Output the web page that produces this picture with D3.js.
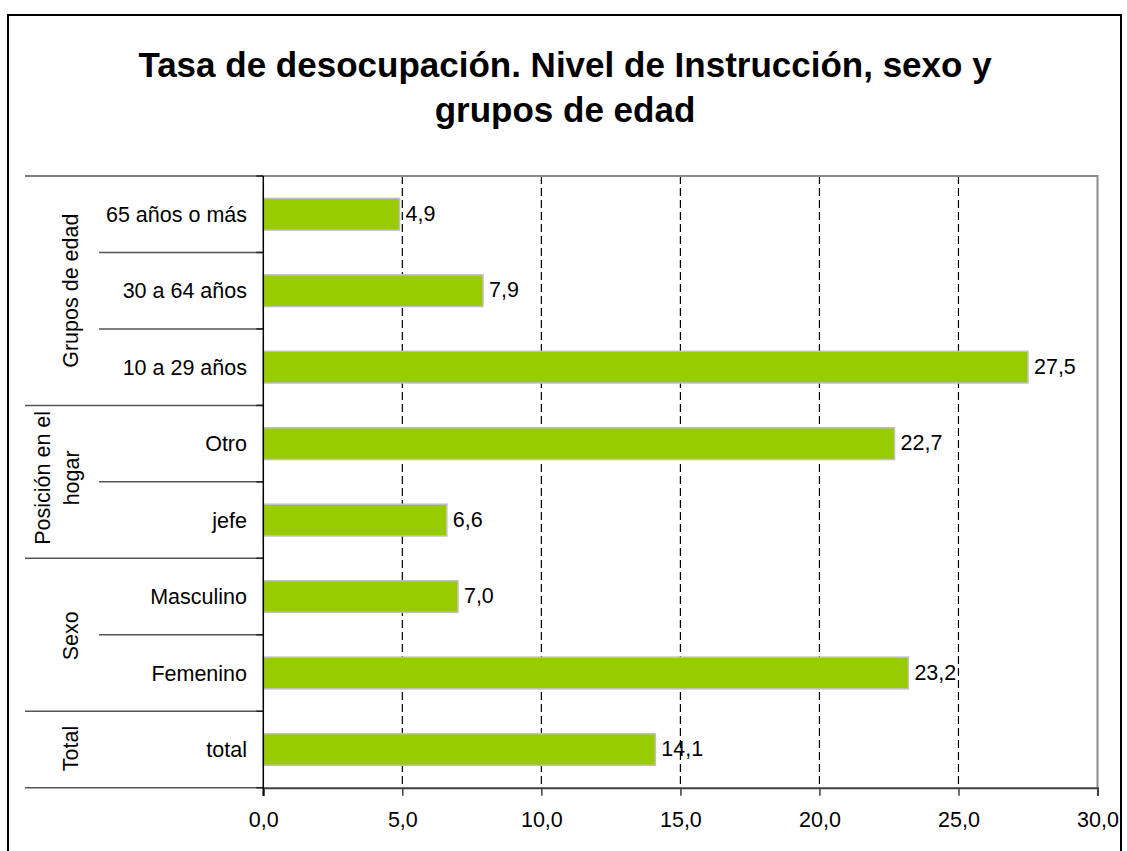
<!DOCTYPE html>
<html>
<head>
<meta charset="utf-8">
<script src="https://cdn.jsdelivr.net/npm/d3@7"></script>
<style>
  html, body { margin: 0; padding: 0; background: #fff; }
  svg { display: block; font-family: "Liberation Sans", Arial, sans-serif; }
</style>
</head>
<body>
<svg id="chart" width="1127" height="851"></svg>
<script>
// ---- data ----
const categories = ["65 años o más", "30 a 64 años", "10 a 29 años", "Otro", "jefe", "Masculino", "Femenino", "total"];
const values = [4.9, 7.9, 27.5, 22.7, 6.6, 7.0, 23.2, 14.1];
const groupNames = [["Grupos de edad"], ["Posición en el", "hogar"], ["Sexo"], ["Total"]];
const groupSizes = [3, 2, 2, 1];
const xTicks = [0, 5, 10, 15, 20, 25, 30];
const titleLines = ["Tasa de desocupación. Nivel de Instrucción, sexo y", "grupos de edad"];

// ---- layout ----
const svg = d3.select("#chart");
const W = 1127, H = 851;
const plot = { left: 263.3, right: 1097.5, top: 176, bottom: 787.7 };
const fontSize = 21.5;

svg.append("rect").attr("width", W).attr("height", H).attr("fill", "#fff");
// outer chart border
svg.append("rect")
  .attr("x", 8).attr("y", 15).attr("width", 1113).attr("height", 900)
  .attr("fill", "none").attr("stroke", "#000").attr("stroke-width", 2);

// title
svg.append("g").selectAll("text").data(titleLines).join("text")
  .attr("x", 565).attr("y", (d, i) => 77 + i * 45)
  .attr("text-anchor", "middle")
  .attr("font-size", 35).attr("font-weight", "bold").attr("fill", "#000")
  .text(d => d);

const x = d3.scaleLinear().domain([0, 30]).range([plot.left, plot.right]);
const y = d3.scaleBand().domain(categories).range([plot.top, plot.bottom]).paddingInner(0.585).paddingOuter(0.2925);
const step = y.step();

// dashed gridlines
svg.append("g").selectAll("line").data(xTicks.filter(t => t > 0 && t < 30)).join("line")
  .attr("x1", d => x(d)).attr("x2", d => x(d))
  .attr("y1", plot.top).attr("y2", plot.bottom)
  .attr("stroke", "#000").attr("stroke-width", 1.2).attr("stroke-dasharray", "8,4");

// plot area border (top & right in grey)
svg.append("path")
  .attr("d", `M${plot.left},${plot.top}H${plot.right}V${plot.bottom}`)
  .attr("fill", "none").attr("stroke", "#8c8c8c").attr("stroke-width", 2);

// bars
svg.append("g").selectAll("rect").data(values).join("rect")
  .attr("x", x(0))
  .attr("y", (d, i) => y(categories[i]))
  .attr("width", d => x(d) - x(0))
  .attr("height", y.bandwidth())
  .attr("fill", "#99cc00").attr("stroke", "#c0c0c0").attr("stroke-width", 1.5);

// value labels
const fmt = v => d3.format(".1f")(v).replace(".", ",");
svg.append("g").selectAll("text").data(values).join("text")
  .attr("x", d => x(d) + 6)
  .attr("y", (d, i) => y(categories[i]) + y.bandwidth() / 2 - 1)
  .attr("dy", "0.35em")
  .attr("font-size", fontSize).attr("fill", "#000")
  .text(d => fmt(d));

// x axis
const xAxis = svg.append("g").attr("transform", `translate(0,${plot.bottom})`)
  .call(d3.axisBottom(x).tickValues(xTicks).tickSize(8).tickPadding(16).tickFormat(fmt));
xAxis.select(".domain").attr("stroke", "#404040").attr("stroke-width", 2);
xAxis.selectAll(".tick line").attr("stroke", "#404040").attr("stroke-width", 1.5);
xAxis.selectAll(".tick text").attr("font-size", fontSize).attr("font-family", "Liberation Sans, Arial, sans-serif").attr("fill", "#000");

// category labels
svg.append("g").selectAll("text").data(categories).join("text")
  .attr("x", 247)
  .attr("y", d => y(d) + y.bandwidth() / 2)
  .attr("dy", "0.35em")
  .attr("text-anchor", "end")
  .attr("font-size", fontSize).attr("fill", "#000")
  .text(d => d);

// separators
let idx = 0;
const groupStarts = [];
groupSizes.forEach(s => { groupStarts.push(idx); idx += s; });
const boundaries = d3.range(categories.length + 1).map(i => plot.top + i * step);
const isGroupBoundary = i => i === 0 || i === categories.length || groupStarts.includes(i);
const sep = svg.append("g");
boundaries.forEach((yy, i) => {
  sep.append("line")
    .attr("x1", isGroupBoundary(i) ? 25 : 99).attr("x2", plot.left)
    .attr("y1", yy).attr("y2", yy)
    .attr("stroke", "#555").attr("stroke-width", 1.5);
  sep.append("line")
    .attr("x1", plot.left - 7).attr("x2", plot.left)
    .attr("y1", yy).attr("y2", yy)
    .attr("stroke", "#222").attr("stroke-width", 1.5);
});
// vertical category axis
svg.append("line")
  .attr("x1", plot.left).attr("x2", plot.left)
  .attr("y1", plot.top).attr("y2", plot.bottom + 8)
  .attr("stroke", "#000").attr("stroke-width", 1.5);

// group labels (rotated)
const groupOffsets = [[70], [42, 71], [70], [70]];
const groupShift = [0, -4, 1, -1];
groupNames.forEach((lines, gi) => {
  const start = groupStarts[gi];
  const cy = plot.top + (start + groupSizes[gi] / 2) * step + groupShift[gi];
  lines.forEach((ln, li) => {
    svg.append("text")
      .attr("transform", `translate(${groupOffsets[gi][li]},${cy}) rotate(-90)`)
      .attr("text-anchor", "middle").attr("dy", "0.35em")
      .attr("font-size", fontSize).attr("fill", "#000")
      .text(ln);
  });
});
</script>
</body>
</html>
